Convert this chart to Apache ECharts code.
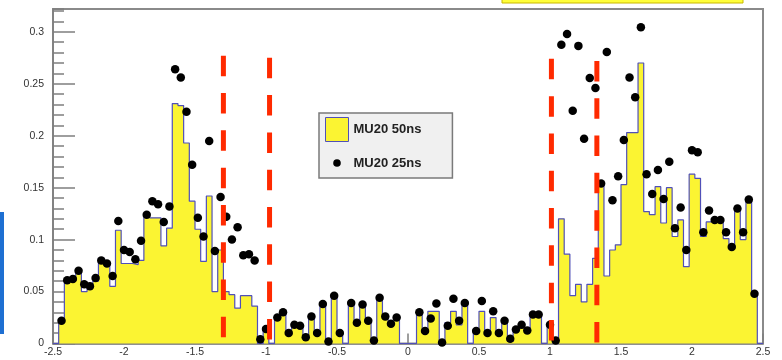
<!DOCTYPE html>
<html>
<head>
<meta charset="utf-8">
<title>MU20 50ns vs 25ns</title>
<script src="https://cdn.jsdelivr.net/npm/echarts@6/dist/echarts.min.js"></script>
<style>
  html, body { margin: 0; padding: 0; background: #fff; }
  #chart { width: 782px; height: 360px; }
</style>
</head>
<body>
<div id="chart"></div>
<script>
// 125 bins of 0.04 between -2.5 and 2.5
const binLow = -2.5;
const binWidth = 0.04;

// MU20 50ns histogram (filled yellow)
const hist50ns = [
  0, 0.02, 0.06, 0.061, 0.071, 0.05, 0.053, 0.06, 0.082, 0.076,
  0.055, 0.109, 0.077, 0.077, 0.076, 0.08, 0.124, 0.121, 0.121, 0.094,
  0.111, 0.231, 0.229, 0.193, 0.137, 0.11, 0.079, 0.142, 0.05, 0.09,
  0.05, 0.047, 0.034, 0.046, 0.046, 0.036, 0, 0.016, 0, 0.026,
  0.031, 0.012, 0.017, 0.018, 0.006, 0.028, 0.009, 0.038, 0.001, 0.046,
  0.01, 0, 0.04, 0.02, 0.038, 0.02, 0.003, 0.044, 0.027, 0.02,
  0.026, 0, 0, 0, 0.031, 0.014, 0.031, 0.031, 0.001, 0.02,
  0.031, 0.018, 0.038, 0, 0.01, 0.031, 0.01, 0.025, 0.012, 0.021,
  0.002, 0.012, 0.015, 0.015, 0.026, 0.026, 0, 0.02, 0, 0.12,
  0.086, 0.046, 0.057, 0.04, 0.057, 0.082, 0.154, 0.065, 0.09, 0.095,
  0.153, 0.203, 0.203, 0.27, 0.127, 0.124, 0.151, 0.116, 0.15, 0.103,
  0.119, 0.074, 0.163, 0.159, 0.103, 0.117, 0.117, 0.117, 0.101, 0.093,
  0.13, 0.1, 0.139, 0.048, 0
];

// MU20 25ns points (null = empty bin, no marker)
const dots25ns = [
  null, 0.022, 0.061, 0.062, 0.07, 0.057, 0.055, 0.063, 0.08, 0.077,
  0.065, 0.118, 0.09, 0.088, 0.081, 0.099, 0.124, 0.137, 0.134, 0.117,
  0.132, 0.264, 0.256, 0.223, 0.172, 0.121, 0.103, 0.195, 0.089, 0.141,
  0.122, 0.1, 0.112, 0.085, 0.086, 0.08, 0.004, 0.014, null, 0.025,
  0.03, 0.01, 0.018, 0.017, 0.006, 0.026, 0.01, 0.038, 0.002, 0.046,
  0.01, null, 0.039, 0.02, 0.0375, 0.022, 0.003, 0.044, 0.026, 0.019,
  0.025, null, null, null, 0.03, 0.012, 0.024, 0.0385, 0.001, 0.017,
  0.043, 0.022, 0.039, null, 0.012, 0.041, 0.01, 0.031, 0.01, 0.022,
  0.0045, 0.0135, 0.018, 0.0125, 0.028, 0.028, null, 0.018, 0.003, 0.2875,
  0.298, 0.224, 0.2865, 0.197, 0.2555, 0.246, 0.154, 0.2805, 0.138, 0.161,
  0.196, 0.256, 0.237, 0.3045, 0.163, 0.144, 0.167, 0.139, 0.175, 0.111,
  0.131, 0.09, 0.186, 0.184, 0.107, 0.128, 0.119, 0.119, 0.107, 0.093,
  0.13, 0.107, 0.1385, 0.048, null
];

// red dashed cut lines
const cutX = [-1.30, -0.975, 1.01, 1.33];
const cutTop = [0.277, 0.275, 0.274, 0.272];

const font = 'Liberation Sans, Arial, Helvetica, sans-serif';
const axisGrey = '#7f7f7f';
const yellow = '#fbf432';
const blue = '#5050b8';

const histData = hist50ns.map((v, i) => [binLow + i * binWidth, v]);
histData.push([binLow + hist50ns.length * binWidth, hist50ns[hist50ns.length - 1]]);

const dotData = dots25ns
  .map((v, i) => (v === null ? null : [binLow + (i + 0.5) * binWidth, v]))
  .filter(Boolean);

const cutSeries = cutX.map((x, k) => ({
  type: 'line',
  data: [[x, cutTop[k]], [x, 0]],
  symbol: 'none',
  silent: true,
  z: 5,
  lineStyle: { color: '#ff2a00', width: 5, type: [20.5, 16.8], cap: 'butt' }
}));

const chart = echarts.init(document.getElementById('chart'));

chart.setOption({
  backgroundColor: '#fff',
  animation: false,
  textStyle: { fontFamily: font },
  grid: {
    left: 53, right: 19, top: 9, bottom: 16.5,
    show: true, borderColor: '#8a8a8a', borderWidth: 2, backgroundColor: '#fff'
  },
  legend: {
    left: 319, top: 113,
    orient: 'vertical',
    selectedMode: false,
    itemWidth: 23, itemHeight: 24, itemGap: 9,
    padding: [4, 31, 3, 6],
    backgroundColor: '#f0f0f0',
    borderColor: '#7a7a7a', borderWidth: 1.5,
    textStyle: { fontFamily: font, fontSize: 13, fontWeight: 'bold', color: '#222' },
    data: [
      { name: 'MU20 50ns', icon: 'rect', itemStyle: { color: yellow, borderColor: blue, borderWidth: 1 } },
      { name: 'MU20 25ns', icon: 'path://M0 0 M23 24 M7.7 12 A3.8 3.8 0 1 1 15.3 12 A3.8 3.8 0 1 1 7.7 12 Z', itemStyle: { color: '#000' } }
    ]
  },
  xAxis: {
    type: 'value', min: -2.5, max: 2.5, interval: 0.5,
    axisLine: { show: true, onZero: false, lineStyle: { color: axisGrey, width: 1.5 } },
    axisTick: { inside: true, length: 10, lineStyle: { color: axisGrey, width: 1.5 } },
    minorTick: { show: true, splitNumber: 5, length: 5, lineStyle: { color: axisGrey, width: 1.5 } },
    axisLabel: { color: '#333', fontSize: 10.5, margin: 3, fontFamily: font },
    splitLine: { show: false }
  },
  yAxis: [
    {
      type: 'value', min: 0, max: 0.322, interval: 0.05,
      axisLine: { show: true, onZero: false, lineStyle: { color: axisGrey, width: 1.5 } },
      axisTick: { inside: true, length: 22, lineStyle: { color: axisGrey, width: 1.5 } },
      axisLabel: { color: '#333', fontSize: 10.5, margin: 9, fontFamily: font, showMaxLabel: false },
      splitLine: { show: false }
    },
    {
      type: 'value', min: 0, max: 0.322, interval: 0.01, position: 'left',
      axisLine: { show: false, onZero: false },
      axisTick: { inside: true, length: 11, lineStyle: { color: axisGrey, width: 1.5 } },
      axisLabel: { show: false },
      splitLine: { show: false }
    }
  ],
  graphic: [
    { type: 'rect', shape: { x: 502, y: -6, width: 241, height: 9 }, style: { fill: '#ffff3a', stroke: '#c9b800', lineWidth: 1 }, silent: true },
    { type: 'rect', shape: { x: -10, y: 212, width: 14, height: 122 }, style: { fill: '#1e6fd2' }, silent: true }
  ],
  series: [
    {
      name: 'MU20 50ns',
      type: 'line',
      step: 'end',
      data: histData,
      symbol: 'none',
      z: 2,
      lineStyle: { color: blue, width: 1.2 },
      itemStyle: { color: yellow },
      areaStyle: { color: yellow, opacity: 1 }
    },
    {
      name: 'MU20 25ns',
      type: 'scatter',
      data: dotData,
      symbol: 'circle',
      symbolSize: 8.5,
      z: 3,
      itemStyle: { color: '#000', opacity: 1 }
    },
    ...cutSeries
  ]
});
</script>
</body>
</html>
